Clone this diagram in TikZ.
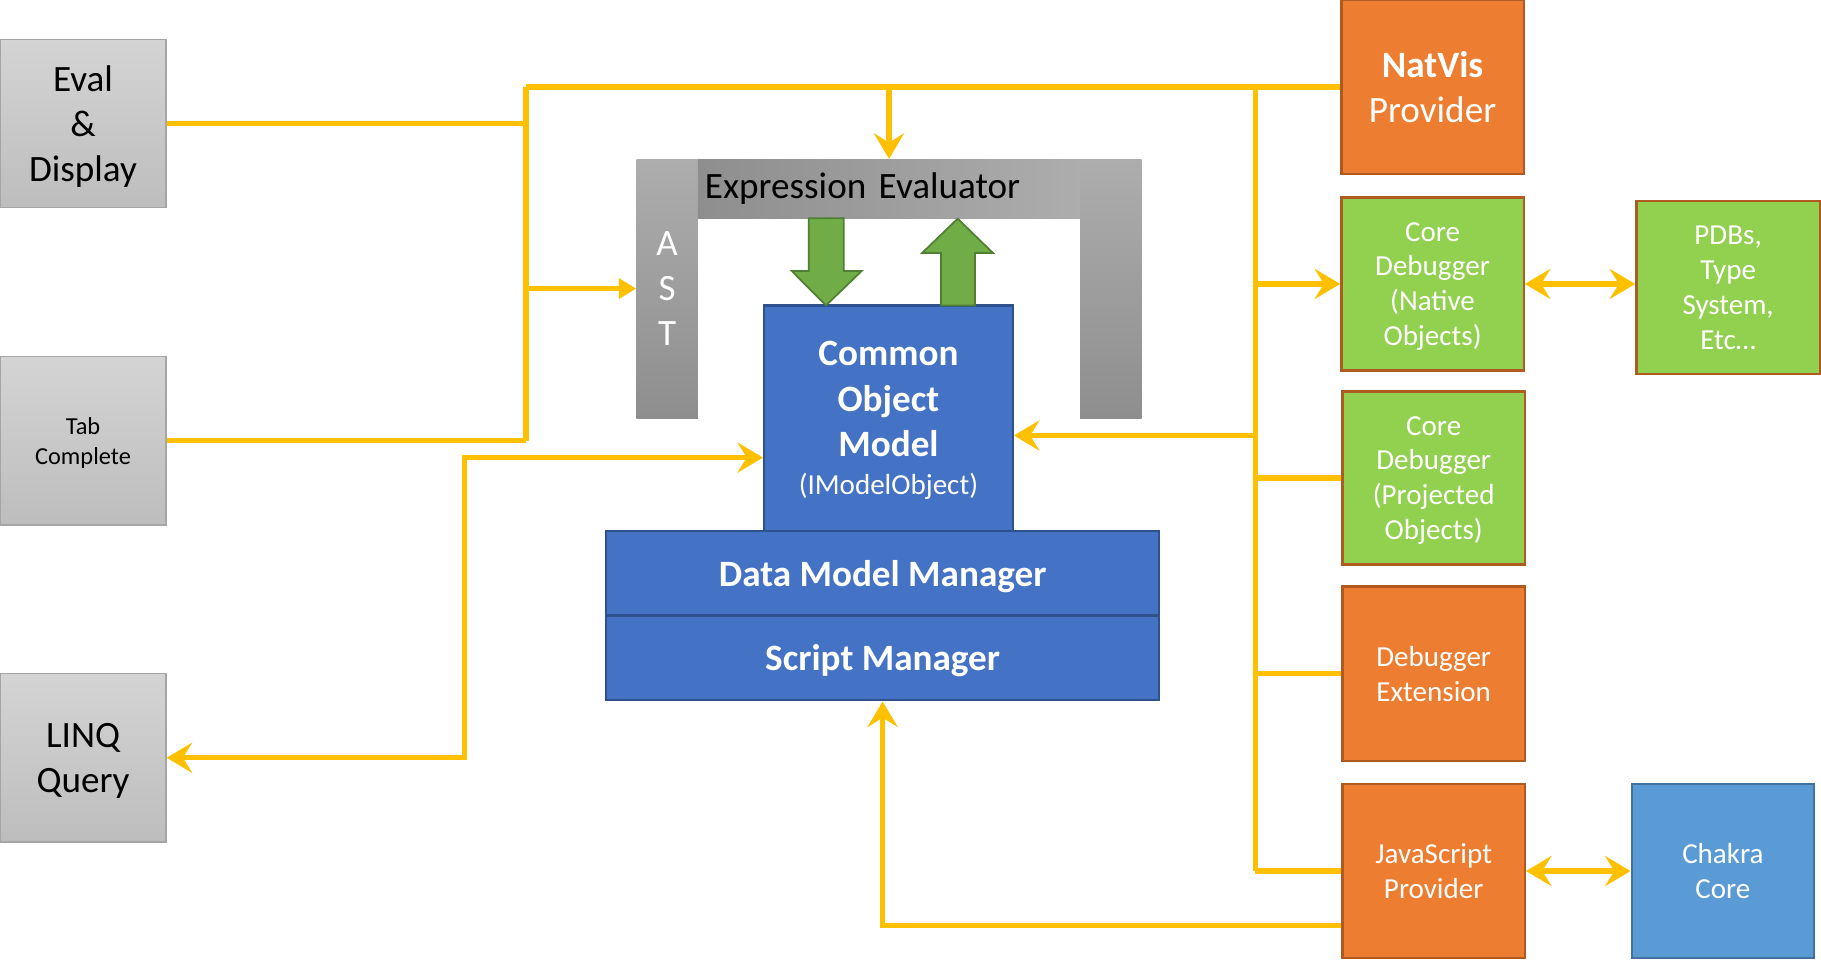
\documentclass[tikz,border=0pt]{standalone}
\usepackage{fontspec}
\setmainfont{Carlito}
\usepackage{tikz}
\usetikzlibrary{arrows.meta,calc}

\definecolor{feedyellow}{HTML}{FFC000}
\definecolor{orangefill}{HTML}{ED7D31}
\definecolor{orangeedge}{HTML}{AE5A21}
\definecolor{greenfill}{HTML}{92D050}
\definecolor{bluefill}{HTML}{4472C4}
\definecolor{blueedge}{HTML}{2F528F}
\definecolor{chakrafill}{HTML}{5B9BD5}
\definecolor{chakraedge}{HTML}{41719C}
\definecolor{grayhi}{HTML}{D4D4D4}
\definecolor{graylo}{HTML}{BDBDBD}
\definecolor{grayedge}{HTML}{A5A5A5}
\definecolor{colhi}{HTML}{ADADAD}
\definecolor{collo}{HTML}{8E8E8E}
\definecolor{arrowfill}{HTML}{70AD47}
\definecolor{arrowedge}{HTML}{507E32}

\newcommand{\fontbig}{\fontsize{32pt}{39pt}\selectfont}
\newcommand{\fontmid}{\fontsize{25pt}{30pt}\selectfont}
\newcommand{\fontsmall}{\fontsize{21pt}{26pt}\selectfont}
\newcommand{\fontid}{\fontsize{25pt}{30pt}\selectfont}

\tikzset{
  graybox/.style={draw=grayedge, line width=1pt, top color=grayhi, bottom color=graylo,
    minimum width=143pt, minimum height=145pt, inner sep=0pt, align=center, text depth=-2pt},
  colorbox/.style={line width=2pt, text=white, minimum width=157pt, minimum height=149pt,
    inner sep=0pt, align=center, font=\fontmid, text depth=-2pt},
  orangebox/.style={colorbox, draw=orangeedge, fill=orangefill},
  greenbox/.style={colorbox, draw=orangeedge, fill=greenfill},
  chakrabox/.style={colorbox, draw=chakraedge, fill=chakrafill},
  bluebox/.style={draw=blueedge, line width=2pt, fill=bluefill, text=white, inner sep=0pt,
    align=center, font=\fontbig\bfseries, text depth=-2pt},
  column/.style={top color=colhi, bottom color=collo, minimum width=53pt, minimum height=223pt,
    inner sep=0pt, text=white, align=center, font=\fontbig},
  feed/.style={draw=feedyellow, line width=4.5pt, >={Stealth[length=22pt,width=26pt,inset=8pt]}},
  bigarrow/.style={fill=arrowfill, draw=arrowedge, line width=1.5pt}
}

\begin{document}
\begin{tikzpicture}[x=1pt,y=-1pt]
  \useasboundingbox (0,0) rectangle (1568,826);

  % Clients on the left
  \node[graybox, font=\fontbig] (eval) at (71.5,106.5) {Eval\\\&\\Display};
  \node[graybox, font=\fontsmall] (tab) at (71.5,379.5) {Tab\\Complete};
  \node[graybox, font=\fontbig] (linq) at (71.5,652.5) {LINQ\\Query};

  % Expression evaluator frame
  \node[column] (ast) at (574.5,248.5) {A\\S\\T};
  \node[column] (rcol) at (956.5,248.5) {};
  \node[left color=collo, right color=colhi, minimum width=329pt, minimum height=51pt,
    inner xsep=6pt, inner ysep=0pt, text width=317pt, align=left, font=\fontbig]
    (expr) at (765.5,162.5) {Expression Evaluator};

  % Data model stack
  \node[bluebox, minimum width=214pt, minimum height=194pt, text depth=-11pt] (com) at (765,360)
    {Common\\Object\\Model\\[-6pt]{\mdseries\fontid (IModelObject)}};
  \node[bluebox, minimum width=476pt, minimum height=73pt] (dmm) at (760,493.5) {Data Model Manager};
  \node[bluebox, minimum width=476pt, minimum height=73pt] (sm) at (760,566.5) {Script Manager};

  % Green arrows between evaluator and object model
  \filldraw[bigarrow] (696.4,188) -- (726.5,188) -- (726.5,233.3) -- (742,233.3) -- (711.2,263)
    -- (681.7,233.3) -- (696.4,233.3) -- cycle;
  \filldraw[bigarrow] (810.2,263) -- (839.5,263) -- (839.5,217.8) -- (855,217.8) -- (824.6,188.3)
    -- (794,217.8) -- (810.2,217.8) -- cycle;

  % Providers on the right
  \node[orangebox, minimum height=150pt, font=\fontbig] (natvis) at (1233.5,75) {\textbf{NatVis}\\Provider};
  \node[greenbox] (corenat) at (1233.5,244.5) {Core\\Debugger\\(Native\\Objects)};
  \node[greenbox, minimum width=158pt] (pdbs) at (1488,247.5) {PDBs,\\Type\\System,\\Etc\ldots};
  \node[greenbox] (coreproj) at (1234.5,411.5) {Core\\Debugger\\(Projected\\Objects)};
  \node[orangebox, minimum height=150pt] (dbgext) at (1234.5,580) {Debugger\\Extension};
  \node[orangebox, minimum height=150pt] (js) at (1234.5,750) {JavaScript\\Provider};
  \node[chakrabox, minimum height=150pt] (chakra) at (1483.5,750) {Chakra\\Core};

  \coordinate (ltrunk) at (453,75);
  \coordinate (rtrunk) at (1081,75);
  \coordinate (comleft) at ([yshift=-34pt]com.west);
  \coordinate (comright) at ([yshift=-15pt]com.east);
  \coordinate (jsout) at ([yshift=-47pt]js.west);
  \coordinate (lbend) at (400,394);

  % Left feed lines
  \draw[feed] (ltrunk) -- (natvis.west);
  \draw[feed] (ltrunk) -- (ltrunk |- tab.east);
  \draw[feed] (eval.east) -- (ltrunk |- eval.east);
  \draw[feed] (tab.east) -- (ltrunk |- tab.east);
  \draw[feed, -{Triangle[length=15pt,width=17pt]}] (ltrunk |- ast.west) -- (ast.west);
  \draw[feed, ->] (ltrunk -| expr.north) -- (expr.north);
  \draw[feed, <->] (linq.east) -- (linq.east -| lbend) |- (comleft);

  % Right feed lines
  \draw[feed] (rtrunk) -- (rtrunk |- js.west);
  \draw[feed, ->] (rtrunk |- corenat.west) -- (corenat.west);
  \draw[feed, ->] (rtrunk |- comright) -- (comright);
  \draw[feed] (rtrunk |- coreproj.west) -- (coreproj.west);
  \draw[feed] (rtrunk |- dbgext.west) -- (dbgext.west);
  \draw[feed] (rtrunk |- js.west) -- (js.west);
  \draw[feed, ->] (jsout) -| (sm.south);
  \draw[feed, <->] (corenat.east) -- (corenat.east -| pdbs.west);
  \draw[feed, <->] (js.east) -- (chakra.west);
\end{tikzpicture}
\end{document}
